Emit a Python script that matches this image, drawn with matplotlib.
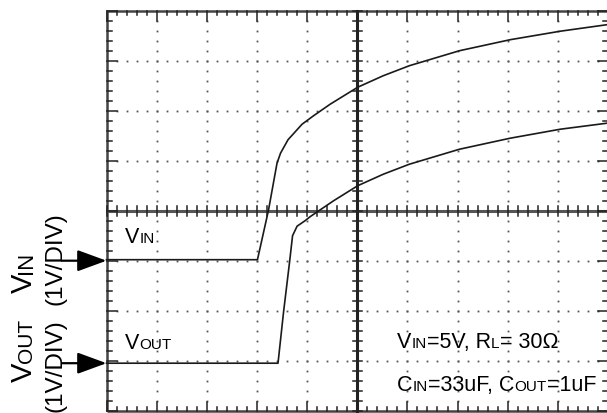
import numpy as np
import matplotlib
matplotlib.use("Agg")
import matplotlib.pyplot as plt

plt.rcParams['font.family'] = ['Liberation Sans', 'DejaVu Sans']

# scope traces, in divisions (x: 10 div, y: 8 div)
vin_x = [0, 3.01, 3.23, 3.40, 3.47, 3.62, 3.90, 4.13, 4.46, 5.01, 5.52, 6.04, 7.04, 8.05, 9.05, 9.98]
vin_y = [3.02, 3.02, 4.01, 4.95, 5.15, 5.42, 5.73, 5.90, 6.13, 6.47, 6.70, 6.90, 7.20, 7.42, 7.59, 7.72]
vout_x = [0, 3.42, 3.53, 3.65, 3.71, 3.80, 3.96, 4.06, 4.53, 5.01, 5.52, 6.04, 7.04, 8.05, 9.05, 9.98]
vout_y = [0.95, 0.95, 1.97, 2.97, 3.50, 3.69, 3.80, 3.88, 4.20, 4.50, 4.73, 4.93, 5.23, 5.45, 5.63, 5.75]

vin_gnd = 3.0
vout_gnd = 0.95

n_xdiv, n_ydiv = 10, 8

W, H = 607, 414
fig = plt.figure(figsize=(W / 100, H / 100), dpi=100)
ax = fig.add_axes([106.5 / W, 2.3 / H, 501.5 / W, 400 / H])
ax.set_xlim(0, n_xdiv)
ax.set_ylim(0, n_ydiv)
ax.axis('off')

grid_c = '#444444'
minor = np.round(np.arange(0, n_xdiv + 0.01, 0.2), 2)
minor_y = np.round(np.arange(0, n_ydiv + 0.01, 0.2), 2)

# dotted graticule
for gx in range(1, n_xdiv):
    if gx == n_xdiv // 2:
        continue
    ax.plot(np.full(len(minor_y), gx), minor_y, ls='none', marker='s', ms=1.3,
            mew=0, color='#555555', clip_on=False)
for gy in range(1, n_ydiv):
    if gy == n_ydiv // 2:
        continue
    ax.plot(minor, np.full(len(minor), gy), ls='none', marker='s', ms=1.3,
            mew=0, color='#555555', clip_on=False)

# border (no line on the right edge, only ticks)
kw = dict(color=grid_c, lw=1.8, clip_on=False, solid_capstyle='butt')
ax.plot([0, n_xdiv], [n_ydiv, n_ydiv], **kw)
ax.plot([0, n_xdiv], [0, 0], **kw)
ax.plot([0, 0], [0, n_ydiv], **kw)
# centre cross
ax.plot([0, n_xdiv], [n_ydiv / 2, n_ydiv / 2], color='#555555', lw=2.2, clip_on=False)
ax.plot([n_xdiv / 2, n_xdiv / 2], [0, n_ydiv], color='#222222', lw=2.2, clip_on=False)

# ticks
tk = dict(color='#222222', lw=1.1, clip_on=False)
for x in minor:
    major = abs(x - round(x)) < 1e-6
    L = 0.2 if major else 0.09
    ax.plot([x, x], [n_ydiv, n_ydiv - L], **tk)
    ax.plot([x, x], [0, L * 0.9], **tk)
    ax.plot([x, x], [n_ydiv / 2 - 0.1, n_ydiv / 2 + 0.1], **tk)
for y in minor_y:
    major = abs(y - round(y)) < 1e-6
    L = 0.2 if major else 0.1
    ax.plot([0, L], [y, y], **tk)
    ax.plot([n_xdiv - 0.02, n_xdiv - L], [y, y], **tk)
    ax.plot([n_xdiv / 2 - 0.09, n_xdiv / 2 + 0.09], [y, y], **tk)

# traces
ax.plot(vin_x, vin_y, color='#1a1a1a', lw=1.2, clip_on=False)
ax.plot(vout_x, vout_y, color='#1a1a1a', lw=1.2, clip_on=False)

# ground arrows
for g in (vin_gnd, vout_gnd):
    ax.annotate('', xy=(0, g), xytext=(-0.89, g),
                arrowprops=dict(arrowstyle='-|>,head_length=0.9,head_width=0.33',
                                mutation_scale=20, lw=1.6, color='black',
                                shrinkA=0, shrinkB=0),
                annotation_clip=False)

fig.canvas.draw()
rend = fig.canvas.get_renderer()


def rich(px, py, parts, rotation=0):
    # parts placed one after another on a common baseline, pixel coords
    for s, size in parts:
        t = fig.text(px / W, py / H, s, fontsize=size, rotation=rotation,
                     rotation_mode='anchor', ha='left', va='baseline', color='black')
        ext = t.get_window_extent(rend)
        if rotation == 0:
            px += ext.width
        else:
            py += ext.height


def data_px(x, y):
    return ax.transData.transform((x, y))


big, small = 15.5, 11
rich(*data_px(0.37, 3.37), [('V', big), ('IN', small)])
rich(*data_px(0.37, 1.25), [('V', big), ('OUT', small)])
rich(*data_px(5.80, 1.27), [('V', big), ('IN', small), ('=5V, R', big),
                             ('L', small), ('= 30\u03a9', big)])
rich(*data_px(5.80, 0.42), [('C', big), ('IN', small), ('=33uF, C', big),
                             ('OUT', small), ('=1uF', big)])

# left side labels (rotated)
rich(32, H - 293, [('V', 21), ('IN', 16)], rotation=90)
rich(62, H - 305, [('(1V/DIV)', 17.5)], rotation=90)
rich(32, H - 382, [('V', 21), ('OUT', 15)], rotation=90)
rich(62, H - 412, [('(1V/DIV)', 17.5)], rotation=90)

fig.savefig('out.png', dpi=100)
